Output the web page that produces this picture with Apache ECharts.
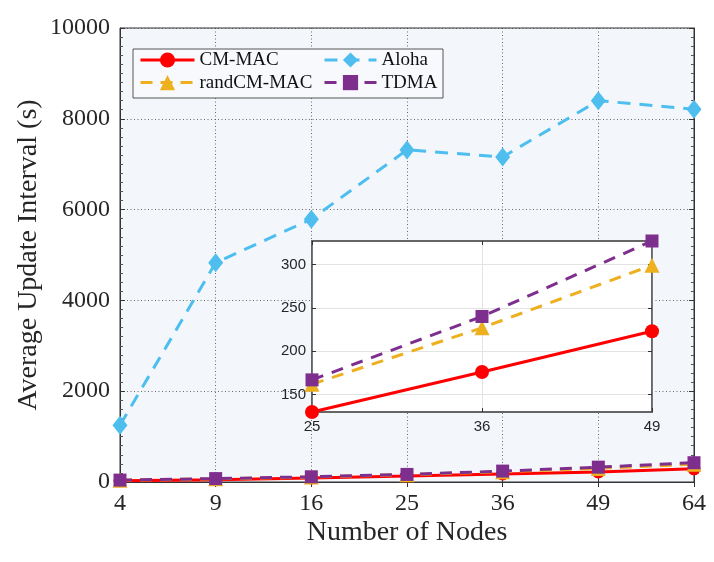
<!DOCTYPE html>
<html>
<head>
<meta charset="utf-8">
<script src="https://cdn.jsdelivr.net/npm/echarts@6/dist/echarts.min.js"></script>
<style>
html,body{margin:0;padding:0;background:#fff;}
#chart{width:714px;height:562px;}
</style>
</head>
<body>
<div id="chart"></div>
<script>
// ---- data ----
const categories = ['4', '9', '16', '25', '36', '49', '64'];
const cmMac = [28, 52, 88, 130, 176, 223, 290];
const randCmMac = [38, 70, 108, 162, 227, 299, 392];
const aloha = [1250, 4830, 5790, 7315, 7160, 8400, 8210];
const tdma = [42, 75, 115, 167, 240, 327, 425];
const yTicksMain = [0, 2000, 4000, 6000, 8000, 10000];
const insetCategories = ['25', '36', '49'];
const insetStart = 3; // index of '25' in categories
const insetYTicks = [150, 200, 250, 300];
const insetYMin = 130;
const insetYMax = 327;

const serif = "'Liberation Serif','Times New Roman',serif";
const sans = "'Liberation Sans',Arial,sans-serif";
const C_RED = '#FF0000', C_YEL = '#EDB120', C_BLU = '#4DBEEE', C_PUR = '#7E2F8E';

const chart = echarts.init(document.getElementById('chart'), null, {renderer: 'canvas'});

function mainSeries(name, data, color, symbol, size, dash) {
  return {
    name: name, type: 'line', data: data, xAxisIndex: 0, yAxisIndex: 0,
    symbol: symbol, symbolSize: size, showSymbol: true,
    lineStyle: {color: color, width: 3, type: dash},
    itemStyle: {color: color}, z: 2, animation: false, clip: false
  };
}
function insetSeries(name, data, color, symbol, size, dash) {
  return {
    name: name, type: 'line', data: data.slice(insetStart, insetStart + 3),
    xAxisIndex: 2, yAxisIndex: 2,
    symbol: symbol, symbolSize: size,
    lineStyle: {color: color, width: 3, type: dash},
    itemStyle: {color: color}, z: 8, animation: false, clip: false
  };
}

const dotGrid = {show: true, lineStyle: {color: '#3a3a3a', type: [1, 2.5], width: 1, opacity: 0.75}};
const plain = v => String(v);

const legendCommon = {
  orient: 'vertical', top: 50, padding: 0, itemHeight: 19, itemGap: 2.6, z: 20,
  lineStyle: {width: 3},
  textStyle: {fontFamily: serif, fontSize: 19, color: '#111', lineHeight: 20}
};

const option = {
  animation: false,
  backgroundColor: '#fff',
  grid: [
    {left: 120, right: 20, top: 28, bottom: 80, show: true, backgroundColor: '#F3F7FC', borderColor: '#333', borderWidth: 1, z: 0},
    {left: 312, top: 241, width: 340, height: 171, show: true, backgroundColor: '#fff', borderColor: '#777', borderWidth: 1.5, z: 5}
  ],
  xAxis: [
    {type: 'category', data: categories, boundaryGap: false, gridIndex: 0, position: 'bottom',
     axisLine: {show: true, lineStyle: {color: '#333', width: 1}},
     axisTick: {show: true, inside: true, length: 5, alignWithLabel: true, lineStyle: {color: '#333'}},
     axisLabel: {fontFamily: serif, fontSize: 24, color: '#262626', margin: 10},
     splitLine: dotGrid,
     name: 'Number of Nodes', nameLocation: 'middle', nameGap: 37, nameMoveOverlap: false,
     nameTextStyle: {fontFamily: serif, fontSize: 28, color: '#262626'}},
    {type: 'category', data: categories, boundaryGap: false, gridIndex: 0, position: 'top',
     axisLine: {show: true, lineStyle: {color: '#333'}},
     axisTick: {show: true, inside: true, length: 5, lineStyle: {color: '#333'}},
     axisLabel: {show: false}, splitLine: {show: false}},
    {type: 'category', data: insetCategories, boundaryGap: false, gridIndex: 1, position: 'bottom', z: 6,
     axisLine: {show: true, lineStyle: {color: '#555', width: 1.5}},
     axisTick: {show: true, inside: true, length: 4, lineStyle: {color: '#333'}},
     axisLabel: {fontFamily: sans, fontSize: 15, color: '#262626', margin: 7},
     splitLine: {show: true, lineStyle: {color: '#e3e3e3', width: 1}}},
    {type: 'category', data: insetCategories, boundaryGap: false, gridIndex: 1, position: 'top', z: 6,
     axisLine: {show: true, lineStyle: {color: '#555', width: 1.5}},
     axisTick: {show: true, inside: true, length: 4, lineStyle: {color: '#333'}},
     axisLabel: {show: false}, splitLine: {show: false}}
  ],
  yAxis: [
    {type: 'value', gridIndex: 0, min: yTicksMain[0], max: yTicksMain[yTicksMain.length - 1], interval: 2000, position: 'left',
     axisLine: {show: true, lineStyle: {color: '#333', width: 1}},
     axisTick: {show: true, inside: true, length: 5, lineStyle: {color: '#333'}},
     minorTick: {show: true, splitNumber: 10, length: 3, lineStyle: {color: '#555'}},
     axisLabel: {fontFamily: serif, fontSize: 24, color: '#262626', margin: 10, formatter: plain},
     splitLine: dotGrid,
     name: 'Average Update Interval (s)', nameLocation: 'middle', nameGap: 77, nameMoveOverlap: false,
     nameTextStyle: {fontFamily: serif, fontSize: 28, color: '#262626'}},
    {type: 'value', gridIndex: 0, min: 0, max: 10000, interval: 2000, position: 'right',
     axisLine: {show: true, lineStyle: {color: '#333'}},
     axisTick: {show: true, inside: true, length: 5, lineStyle: {color: '#333'}},
     minorTick: {show: true, splitNumber: 10, length: 3, lineStyle: {color: '#555'}},
     axisLabel: {show: false}, splitLine: {show: false}},
    {type: 'value', gridIndex: 1, min: insetYMin, max: insetYMax, position: 'left', z: 6,
     axisLine: {show: true, lineStyle: {color: '#555', width: 1.5}},
     axisTick: {show: true, inside: true, length: 4, lineStyle: {color: '#333'}, customValues: insetYTicks},
     axisLabel: {fontFamily: sans, fontSize: 15, color: '#262626', margin: 6, customValues: insetYTicks},
     splitLine: {show: true, lineStyle: {color: '#e3e3e3', width: 1}}},
    {type: 'value', gridIndex: 1, min: insetYMin, max: insetYMax, position: 'right', z: 6,
     axisLine: {show: true, lineStyle: {color: '#555', width: 1.5}},
     axisTick: {show: true, inside: true, length: 4, lineStyle: {color: '#333'}, customValues: insetYTicks},
     axisLabel: {show: false, customValues: insetYTicks}, splitLine: {show: false}}
  ],
  legend: [
    Object.assign({}, legendCommon, {left: 139, itemWidth: 54, data: ['CM-MAC', 'randCM-MAC']}),
    Object.assign({}, legendCommon, {left: 323, itemWidth: 52, data: ['Aloha', 'TDMA']})
  ],
  graphic: [
    {type: 'rect', shape: {x: 133, y: 49, width: 310, height: 49}, z: 15,
     style: {fill: '#F7F9FD', stroke: '#555', lineWidth: 1}}
  ],
  series: [
    mainSeries('CM-MAC', cmMac, C_RED, 'circle', 13, 'solid'),
    mainSeries('randCM-MAC', randCmMac, C_YEL, 'triangle', 15, [12, 8]),
    mainSeries('Aloha', aloha, C_BLU, 'diamond', [15, 19], [13, 9]),
    mainSeries('TDMA', tdma, C_PUR, 'rect', 13, [12, 8]),
    insetSeries('CM-MAC', cmMac, C_RED, 'circle', 14, 'solid'),
    insetSeries('randCM-MAC', randCmMac, C_YEL, 'triangle', 15, [12, 9]),
    insetSeries('TDMA', tdma, C_PUR, 'rect', 13, [12, 9])
  ]
};
chart.setOption(option);
</script>
</body>
</html>
